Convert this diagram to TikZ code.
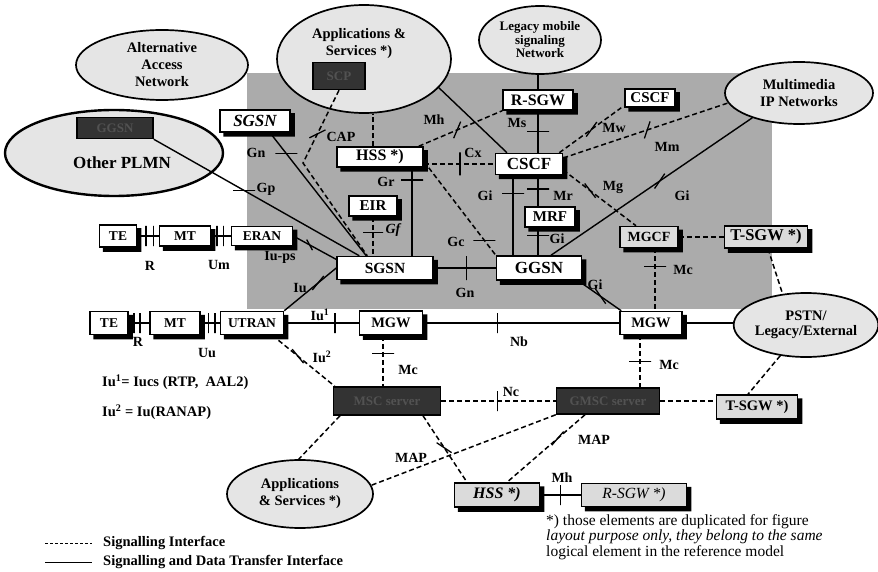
\documentclass[tikz,border=0pt]{standalone}
\usepackage{fontspec}
\setmainfont{Liberation Serif}
\usetikzlibrary{shapes.geometric,calc}

\newcommand{\fsz}[1]{\fontsize{#1}{#1}\selectfont}

\tikzset{
  box/.style={draw, line width=1.5pt, fill=white, inner sep=0pt, font=\bfseries\fsz{15}},
  dotbox/.style={box, fill=black!14},
  darkbox/.style={draw, line width=1.5pt, fill=black!80, text=black!68, inner sep=0pt, font=\bfseries\fsz{13}},
  net/.style={ellipse, draw, line width=1.7pt, fill=black!10, inner sep=0pt, align=center, font=\bfseries\fontsize{14.5}{17}\selectfont},
  lbl/.style={inner sep=0pt, font=\bfseries\fsz{14}},
  sd/.style={line width=1.4pt},
  sig/.style={line width=1.5pt, dash pattern=on 5pt off 3pt},
  hbar/.style={draw, solid, line width=1.3pt, minimum width=22pt, minimum height=0pt, inner sep=0pt},
  vbar/.style={draw, solid, line width=1.3pt, minimum width=0pt, minimum height=20pt, inner sep=0pt},
  xbar/.style={vbar, sloped, minimum height=18pt}
}

\begin{document}
\begin{tikzpicture}[x=1pt,y=1pt,yscale=-1,xscale=1]
\useasboundingbox (0,0) rectangle (878,572);

\fill[black!33] (247,73) rectangle (772,309);

\node[net, minimum width=172pt, minimum height=70pt] (altnet) at (162,65) {Alternative\\Access\\Network};
\node[net, line width=2.4pt, minimum width=218pt, minimum height=86pt] (plmn) at (114,153) {};
\node[darkbox, minimum width=76pt, minimum height=21pt] (ggsnP) at (115,128) {GGSN};
\node[lbl, font=\bfseries\fsz{17}] (plmntxt) at (122,163) {Other PLMN};
\node[net, minimum width=174pt, minimum height=108pt] (appA) at (364,59) {};
\node[lbl, align=center, font=\bfseries\fontsize{14.5}{17}\selectfont] (apptxt) at (359,44) {Applications \&\\Services *)};
\node[darkbox, minimum width=52pt, minimum height=27pt] (scp) at (339,76) {SCP};
\node[net, font=\bfseries\fontsize{13}{13.5}\selectfont, minimum width=122pt, minimum height=68pt] (legacy) at (540,40) {Legacy mobile\\signaling\\Network};
\node[net, minimum width=148pt, minimum height=62pt] (mmip) at (799,93) {Multimedia\\IP Networks};
\node[net, font=\bfseries\fontsize{14.5}{14.5}\selectfont, minimum width=142pt, minimum height=64pt] (pstn) at (806,325) {PSTN/\\Legacy/External};
\node[net, minimum width=146pt, minimum height=68pt] (appB) at (300,494) {Applications\\\& Services *)};

\node[box, font=\bfseries\itshape\fsz{17}, minimum width=70pt, minimum height=22pt] (sgsnA) at (255,121) {SGSN};
\node[box, font=\bfseries\fsz{16}, minimum width=86pt, minimum height=20pt] (hss) at (380,157) {HSS *)};
\node[box, font=\bfseries\fsz{16}, minimum width=70pt, minimum height=20pt] (rsgw) at (538,100) {R-SGW};
\node[box, font=\bfseries\fsz{17}, minimum width=67pt, minimum height=21pt] (cscf) at (529,164) {CSCF};
\node[box, minimum width=50pt, minimum height=18pt] (cscfB) at (650,98) {CSCF};
\node[box, minimum width=48pt, minimum height=20pt] (eir) at (373,206) {EIR};
\node[box, font=\bfseries\fsz{15.5}, minimum width=96pt, minimum height=23pt] (sgsn) at (385,268) {SGSN};
\node[box, font=\bfseries\fsz{17}, minimum width=85pt, minimum height=24pt] (ggsn) at (539,268) {GGSN};
\node[box, minimum width=50pt, minimum height=20pt] (mrf) at (550,217) {MRF};
\node[dotbox, font=\bfseries\fsz{14}, minimum width=58pt, minimum height=21pt] (mgcf) at (649,237) {MGCF};
\node[dotbox, font=\bfseries\fsz{16.5}, minimum width=83pt, minimum height=22pt] (tsgwA) at (766,237) {T-SGW *)};
\node[box, font=\bfseries\fsz{14.5}, minimum width=62pt, minimum height=23pt] (mgwB) at (651,323) {MGW};
\node[box, font=\bfseries\fsz{14.5}, minimum width=63pt, minimum height=24pt] (mgwA) at (391,323) {MGW};
\node[box, font=\bfseries\fsz{13.5}, minimum width=61pt, minimum height=19pt] (eran) at (262,236) {ERAN};
\node[box, font=\bfseries\fsz{13.5}, minimum width=51pt, minimum height=20pt] (mtA) at (185,236) {MT};
\node[box, font=\bfseries\fsz{13.5}, minimum width=37pt, minimum height=22pt] (teA) at (118,236) {TE};
\node[box, font=\bfseries\fsz{13.5}, minimum width=63pt, minimum height=23pt] (utran) at (252,323) {UTRAN};
\node[box, font=\bfseries\fsz{13.5}, minimum width=50pt, minimum height=23pt] (mtB) at (175,323) {MT};
\node[box, font=\bfseries\fsz{13.5}, minimum width=38pt, minimum height=23pt] (teB) at (109,323) {TE};
\node[darkbox, minimum width=107pt, minimum height=28pt] (msc) at (387,401) {MSC server};
\node[darkbox, minimum width=103pt, minimum height=26pt] (gmsc) at (608,401) {GMSC server};
\node[dotbox, font=\bfseries\fsz{14.5}, minimum width=81pt, minimum height=24pt] (tsgwB) at (757,407) {T-SGW *)};
\node[dotbox, font=\bfseries\itshape\fsz{16}, minimum width=85pt, minimum height=24pt] (hssB) at (497,495) {HSS *)};
\node[dotbox, font=\itshape\fsz{15.5}, minimum width=105pt, minimum height=23pt] (rsgwB) at (634,495) {R-SGW *)};

\foreach \nd in {sgsnA,hss,rsgw,cscf,cscfB,eir,sgsn,ggsn,mrf,mgcf,tsgwA,mgwB,mgwA,eran,mtA,teA,utran,mtB,teB,tsgwB,hssB,rsgwB}
  \fill[black] ($(\nd.north east)+(-0.5,4)$) rectangle ($(\nd.south east)+(4,4)$)
               ($(\nd.south west)+(4,-0.5)$) rectangle ($(\nd.south east)+(4,4)$);

\coordinate (capbend) at (303,163);
\draw[sd] (ggsnP.south east) -- node[hbar, pos=.44] {} ([xshift=23pt]sgsn.north west);
\draw[sd] ([xshift=15pt]sgsnA.south) -- node[hbar, pos=.17] {} ([xshift=30pt]sgsn.north west);
\draw[sig] (scp.south) -- node[xbar, pos=.6] {} (capbend) -- ([xshift=31pt]sgsn.north west);
\draw[sd] (eran.east) -- node[xbar, pos=.38, minimum height=12pt] {} (sgsn.170);
\draw[sd] (utran.north east) -- node[xbar, pos=.65] {} (sgsn.west);
\draw[sd] (utran.east) -- node[vbar, pos=.68] {} (utran.east -| mgwA.west);
\draw[sd] (mgwA.east) -- node[vbar, pos=.38] {} (mgwB.west);
\draw[sd] (mgwB.east) -- (mgwB.east -| pstn.west);
\draw[sd] (sgsn.east) -- node[vbar, pos=.53, minimum height=24pt] {} (ggsn.west);
\draw[sd] ([xshift=-4pt]ggsn.south east) -- node[xbar, pos=.52] {} ([xshift=2pt]mgwB.north west);
\draw[sd] ([xshift=12pt]ggsn.north) -- node[xbar, pos=.54] {} (mmip.-152);
\draw[sd] ([xshift=-16pt]cscf.south) -- node[hbar, pos=.23] {} ([xshift=-16pt]cscf.south |- ggsn.north);
\draw[sd] ([xshift=9pt]cscf.south) -- node[hbar, pos=.44] {} ([xshift=9pt]cscf.south |- mrf.north);
\draw[sd] ([xshift=-12pt]mrf.south) -- node[hbar, pos=.27] {} ([xshift=-12pt]mrf.south |- ggsn.north);
\draw[sd] (rsgw.south) -- node[hbar, pos=.5] {} (rsgw.south |- cscf.north);
\draw[sd] (rsgw.north |- legacy.south) -- (rsgw.north);
\draw[sd] (appA.-21) -- ([xshift=-22pt]cscf.north);
\draw[sig] ([xshift=-7pt]hss.north) -- ([xshift=-7pt]hss.north |- appA.south);
\draw[sig] ([xshift=-5pt]hss.north east) -- node[xbar, pos=.46] {} (rsgw.south west);
\draw[sig] (hss.east |- cscf.west) -- node[vbar, pos=.51, minimum height=23pt] {} (cscf.west);
\draw[sd] ([xshift=32pt]hss.south) -- node[hbar, pos=.14] {} ([xshift=32pt]hss.south |- sgsn.north);
\draw[sig] ([xshift=5pt]hss.south east) -- node[hbar, pos=.83] {} (ggsn.north west);
\draw[sig] (eir.south) -- node[hbar, pos=.41, minimum width=20pt] {} (eir.south |- sgsn.north);
\draw[sig] ([xshift=-4pt]cscf.north east) -- node[xbar, pos=.52] {} ([xshift=-3pt]cscfB.south west);
\draw[sig] (cscf.10) -- node[xbar, pos=.51] {} (mmip.-172);
\draw[sig] (cscf.-10) -- node[xbar, pos=.37] {} ([xshift=-13pt]mgcf.north);
\draw[sig] (mgcf.east) -- (tsgwA.west);
\draw[sig] ([xshift=6pt]mgcf.south) -- node[hbar, pos=.29] {} ([xshift=6pt]mgcf.south |- mgwB.north);
\draw[sig] ([xshift=2pt]tsgwA.south) -- (pstn.127);
\draw[sig] (pstn.-130) -- ([xshift=-9pt]tsgwB.north);
\draw[sig] ([xshift=-11pt]mgwB.south) -- node[hbar, pos=.51] {} ([xshift=-11pt]mgwB.south |- gmsc.north);
\draw[sig] ([xshift=-8pt]mgwA.south) -- node[hbar, pos=.35] {} ([xshift=-8pt]mgwA.south |- msc.north);
\draw[sig] ([xshift=-12pt]utran.south east) -- node[xbar, pos=.41] {} ([xshift=2pt]msc.north west);
\draw[sig] (msc.east) -- node[vbar, pos=.49] {} (gmsc.west);
\draw[sig] (gmsc.east) -- (gmsc.east -| tsgwB.west);
\draw[sig] ([xshift=-47pt]msc.south) -- (appB.92);
\draw[sig] ([xshift=36pt]msc.south) -- node[xbar, pos=.48] {} ([xshift=-30pt]hssB.north);
\draw[sig] (gmsc.south west) -- (appB.7);
\draw[sig] ([xshift=-23pt]gmsc.south) -- node[xbar, pos=.35] {} ([xshift=10pt]hssB.north);
\draw[sd] (hssB.east) -- node[vbar, pos=.5] {} (hssB.east -| rsgwB.west);
\draw[sd] (teA.east) -- node[vbar, pos=.4] {} node[vbar, pos=.75] {} (mtA.west);
\draw[sd] (mtA.east) -- node[vbar, pos=.3] {} node[vbar, pos=.62] {} (eran.west);
\draw[sd] (teB.east) -- node[vbar, pos=.25] {} node[vbar, pos=.55] {} (mtB.west);
\draw[sd] (mtB.east) -- node[vbar, pos=.4] {} node[vbar, pos=.75] {} (utran.west);

\node[lbl] (lgp) at (266,189) {Gp};
\node[lbl] (lgn1) at (256,153) {Gn};
\node[lbl] (lcap) at (341,137) {CAP};
\node[lbl] (liups) at (280,257) {Iu-ps};
\node[lbl] (liu) at (300,288) {Iu};
\node[lbl] (liu1) at (320,315) {Iu\textsuperscript{1}};
\node[lbl] (lnb) at (519,342) {Nb};
\node[lbl] (lgn2) at (465,293) {Gn};
\node[lbl] (lgi1) at (595,285) {Gi};
\node[lbl] (lgi2) at (682,196) {Gi};
\node[lbl] (lgi3) at (485,196) {Gi};
\node[lbl] (lmr) at (563,196) {Mr};
\node[lbl] (lgi4) at (557,239) {Gi};
\node[lbl] (lms) at (517,123) {Ms};
\node[lbl] (lmh1) at (434,120) {Mh};
\node[lbl] (lcx) at (473,153) {Cx};
\node[lbl] (lgr) at (386,182) {Gr};
\node[lbl] (lgc) at (456,242) {Gc};
\node[lbl, font=\bfseries\itshape\fsz{14}] (lgf) at (393,230) {Gf};
\node[lbl] (lmw) at (614,128) {Mw};
\node[lbl] (lmm) at (667,147) {Mm};
\node[lbl] (lmg) at (613,187) {Mg};
\node[lbl] (lmc1) at (683,270) {Mc};
\node[lbl] (lmc2) at (669,365) {Mc};
\node[lbl] (lmc3) at (408,370) {Mc};
\node[lbl] (liu2) at (322,357) {Iu\textsuperscript{2}};
\node[lbl] (lnc) at (511,392) {Nc};
\node[lbl] (lmap1) at (411,458) {MAP};
\node[lbl] (lmap2) at (594,440) {MAP};
\node[lbl] (lmh2) at (562,478) {Mh};
\node[lbl] (lr1) at (150,266) {R};
\node[lbl] (lum) at (219,265) {Um};
\node[lbl] (lr2) at (138,342) {R};
\node[lbl] (luu) at (207,353) {Uu};

\node[lbl, anchor=west, font=\bfseries\fsz{14.5}] (note1) at (102,382) {Iu\textsuperscript{1}= Iucs (RTP,\ \ AAL2)};
\node[lbl, anchor=west, font=\bfseries\fsz{14.5}] (note2) at (102,412) {Iu\textsuperscript{2} = Iu(RANAP)};

\node[lbl, anchor=west, font=\bfseries\fsz{14.5}] (legsig) at (103,543) {Signalling Interface};
\node[lbl, anchor=west, font=\bfseries\fsz{14.5}] (legsd) at (103,562) {Signalling and Data Transfer Interface};
\draw[sig, line width=.9pt, dash pattern=on 3pt off 2pt] ([xshift=-58pt]legsig.west) -- ([xshift=-11pt]legsig.west);
\draw[sd, line width=1pt] ([xshift=-58pt]legsd.west) -- ([xshift=-11pt]legsd.west);

\node[anchor=north west, inner sep=0pt, align=left, font=\fontsize{15.5}{15.5}\selectfont] (foot) at (546,514) {*) those elements are duplicated for figure\\\textit{layout purpose only, they belong to the same}\\logical element in the reference model};

\end{tikzpicture}
\end{document}
